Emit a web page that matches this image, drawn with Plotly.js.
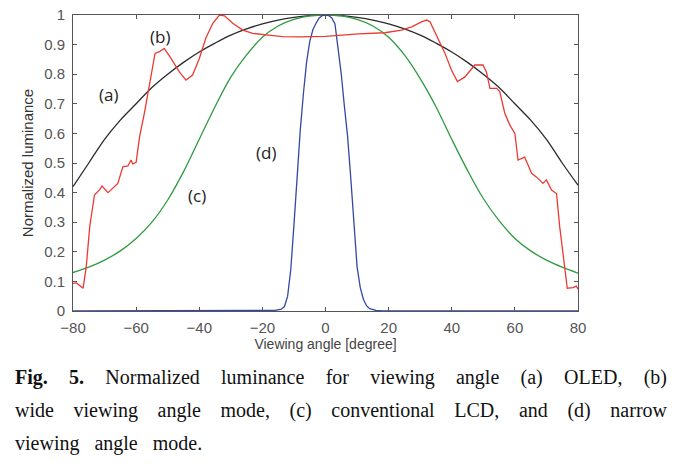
<!DOCTYPE html>
<html>
<head>
<meta charset="utf-8">
<script src="https://cdn.plot.ly/plotly-3.0.1.min.js"></script>
<style>
  body { margin: 0; background: #fff; }
  #wrap { position: relative; width: 679px; height: 464px; }
  #chart { position: absolute; left: 0; top: 0; width: 679px; height: 464px; }
  #caption {
    position: absolute; left: 15px; top: 361px; width: 652px;
    font-family: "Liberation Serif", "Times New Roman", serif;
    font-size: 20px; line-height: 33px; color: #111;
  }
  #caption div { text-align: justify; text-align-last: justify; white-space: nowrap; }
  #caption div.last { text-align-last: left; word-spacing: 10px; }
</style>
</head>
<body>
<div id="wrap">
  <div id="chart"></div>
  <div id="caption">
    <div><b>Fig. 5.</b> Normalized luminance for viewing angle (a) OLED, (b)</div>
    <div>wide viewing angle mode, (c) conventional LCD, and (d) narrow</div>
    <div class="last">viewing angle mode.</div>
  </div>
</div>
<script>
// (a) OLED
const oledAngle = [-80,-75,-70,-65,-60,-55,-50,-45,-40,-35,-30,-25,-20,-15,-10,-5,0,5,10,15,20,25,30,35,40,45,50,55,60,65,70,75,80];
const oledLum = [0.42,0.50,0.58,0.645,0.70,0.755,0.80,0.84,0.875,0.905,0.932,0.953,0.97,0.983,0.992,0.998,1,0.998,0.992,0.983,0.97,0.953,0.932,0.905,0.875,0.84,0.80,0.755,0.70,0.645,0.58,0.50,0.425];

// (b) wide viewing angle mode
const wideAngle = [-80,-78.9,-76.8,-75.8,-74.7,-73.2,-71.6,-70.8,-68.9,-66.8,-65.8,-64.2,-62.6,-61.6,-61.1,-60,-58.9,-57.4,-55.8,-54,-52.6,-51.1,-49,-46.3,-44.2,-42.1,-40,-37.9,-35.7,-33.6,-32,-29.4,-26.2,-23.1,-18.8,-13.6,-8.3,0,10.4,18.8,24.1,27.3,30.4,32,33.1,35.7,37.8,39.9,41.8,44.1,47.3,49.9,51,52.1,54.2,55.2,56.8,58.4,60,61,63.1,65.3,66.8,68.9,70,71.6,73.2,74.2,75.8,76.6,78.4,79.5,80];
const wideLum = [0.093,0.095,0.077,0.15,0.285,0.392,0.409,0.422,0.40,0.422,0.431,0.487,0.49,0.51,0.497,0.502,0.589,0.668,0.769,0.87,0.876,0.887,0.854,0.808,0.78,0.797,0.852,0.922,0.972,1.0,0.997,0.972,0.949,0.938,0.933,0.927,0.926,0.928,0.936,0.94,0.949,0.96,0.977,0.983,0.977,0.916,0.872,0.814,0.775,0.79,0.831,0.831,0.807,0.752,0.752,0.741,0.668,0.628,0.6,0.51,0.52,0.465,0.453,0.431,0.443,0.409,0.397,0.285,0.139,0.077,0.079,0.084,0.074];

// (c) conventional LCD
const lcdAngle = [-80,-75,-70,-65,-60,-55,-50,-45,-40,-35,-30,-25,-20,-15,-10,-5,0,5,10,15,20,25,30,35,40,45,50,55,60,65,70,75,80];
const lcdLum = [0.13,0.148,0.172,0.203,0.245,0.30,0.375,0.47,0.58,0.69,0.79,0.865,0.925,0.963,0.985,0.997,1,0.997,0.985,0.963,0.925,0.865,0.785,0.69,0.58,0.475,0.38,0.305,0.245,0.203,0.172,0.148,0.128];

// (d) narrow viewing angle mode
const narrowAngle = [-80,-20,-16,-14,-13,-12,-11,-10,-9,-8,-7,-6,-5,-4,-3,-2,-1,0,1,2,3,4,5,6,7,8,9,10,11,12,13,14,16,18,80];
const narrowLum = [0,0,0.002,0.006,0.015,0.05,0.14,0.29,0.46,0.61,0.735,0.84,0.91,0.95,0.972,0.99,0.998,1,0.998,0.99,0.97,0.89,0.80,0.69,0.59,0.45,0.28,0.15,0.08,0.04,0.018,0.008,0.002,0,0];

const curveLabels = ['(a)', '(b)', '(c)', '(d)'];
const labelAngle = [-68.8, -52.3, -40.7, -18.8];
const labelLum = [0.73, 0.926, 0.389, 0.534];

const traces = [
    { x: oledAngle, y: oledLum, mode: 'lines', line: { color: '#2b2b2b', width: 1.3, shape: 'spline' } },
    { x: lcdAngle, y: lcdLum, mode: 'lines', line: { color: '#2e9a40', width: 1.3, shape: 'spline' } },
    { x: narrowAngle, y: narrowLum, mode: 'lines', line: { color: '#3447a3', width: 1.3 } },
    { x: wideAngle, y: wideLum, mode: 'lines', line: { color: '#ec3a33', width: 1.3 } }
];

const axisStyle = {
    showline: true, mirror: 'ticks', linecolor: '#555', linewidth: 1,
    ticks: 'inside', ticklen: 4, tickcolor: '#555',
    showgrid: false, zeroline: false,
    tickfont: { family: 'Liberation Sans, Arial, sans-serif', size: 15, color: '#555' }
};

const layout = {
    width: 679, height: 464,
    margin: { l: 73, r: 101, t: 15, b: 153 },
    paper_bgcolor: '#fff', plot_bgcolor: '#fff',
    showlegend: false,
    xaxis: Object.assign({}, axisStyle, {
        range: [-80, 80], dtick: 20, ticklabelstandoff: 3,
        title: { text: 'Viewing angle [degree]', standoff: 2,
                 font: { family: 'Liberation Sans, Arial, sans-serif', size: 14, color: '#444' } }
    }),
    yaxis: Object.assign({}, axisStyle, {
        range: [0, 1], dtick: 0.1, ticklabelstandoff: 4,
        title: { text: 'Normalized luminance', standoff: 6,
                 font: { family: 'Liberation Sans Narrow, Liberation Sans, Arial, sans-serif', size: 15, color: '#333' } }
    }),
    annotations: curveLabels.map((t, i) => ({
        x: labelAngle[i], y: labelLum[i], text: t, showarrow: false,
        font: { family: 'Open Sans, sans-serif', size: 17, color: '#222' }
    }))
};

Plotly.newPlot('chart', traces, layout, { staticPlot: true });
</script>
</body>
</html>
